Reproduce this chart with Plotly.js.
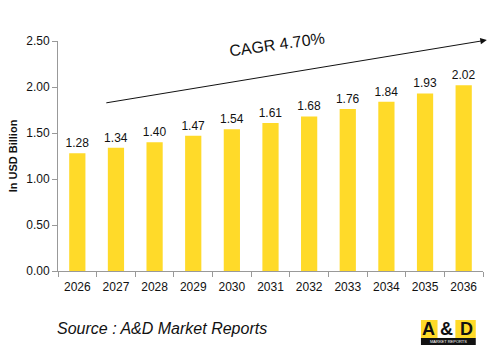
<!DOCTYPE html>
<html><head><meta charset="utf-8">
<script src="https://cdn.plot.ly/plotly-3.0.1.min.js"></script>
<style>html,body{margin:0;padding:0;background:#fff;}#chart{width:502px;height:352px;}</style>
</head><body><div id="chart"></div>
<script>
const years = ['2026','2027','2028','2029','2030','2031','2032','2033','2034','2035','2036'];
const values = [1.28,1.34,1.40,1.47,1.54,1.61,1.68,1.76,1.84,1.93,2.02];
const yTicks = [0,0.5,1,1.5,2,2.5];
const cagrLabel = 'CAGR 4.70%';
const sourceLabel = 'Source : A&D Market Reports';

const FONT = 'Liberation Sans, Arial, sans-serif';
const yellow = '#FFDA29';

const trace = {
  type: 'bar', x: years, y: values,
  marker: {color: yellow},
  text: values.map(v => v.toFixed(2)),
  textposition: 'outside',
  constraintext: 'none',
  textfont: {family: FONT, size: 12, color: '#111'},
  cliponaxis: false,
  hoverinfo: 'none'
};

const layout = {
  width: 502, height: 352,
  margin: {l: 58, r: 19, t: 41, b: 81},
  paper_bgcolor: '#fff', plot_bgcolor: '#fff',
  bargap: 0.58,
  showlegend: false,
  font: {family: FONT, size: 12, color: '#111'},
  xaxis: {
    type: 'category', showgrid: false, showline: true, linecolor: '#999', linewidth: 1,
    ticks: 'outside', tickson: 'boundaries', ticklen: 5, tickcolor: '#999',
    ticklabelstandoff: 5,
    tickfont: {family: FONT, size: 12, color: '#111'}
  },
  yaxis: {
    range: [0, 2.5], tickvals: yTicks, tickformat: '.2f',
    showgrid: false, showline: true, linecolor: '#999', linewidth: 1,
    ticks: 'outside', ticklen: 5, tickcolor: '#999', zeroline: false,
    tickfont: {family: FONT, size: 12, color: '#111'},
    title: {text: '<b>In USD Billion</b>', font: {family: FONT, size: 11, color: '#111'}, standoff: 6}
  },
  shapes: [
    {type: 'rect', xref: 'paper', yref: 'paper', x0: 0.854, x1: 0.983, y0: -0.291, y1: -0.213, fillcolor: yellow, line: {width: 0}},
    {type: 'rect', xref: 'paper', yref: 'paper', x0: 0.893, x1: 0.935, y0: -0.291, y1: -0.213, fillcolor: '#fff', line: {width: 0}},
    {type: 'rect', xref: 'paper', yref: 'paper', x0: 0.854, x1: 0.983, y0: -0.322, y1: -0.291, fillcolor: '#111', line: {width: 0}}
  ],
  annotations: [
    {xref: 'paper', yref: 'paper', x: 1.009, y: 1.004, ax: -382, ay: 63, axref: 'pixel', ayref: 'pixel',
     showarrow: true, arrowhead: 2, arrowsize: 1.3, arrowwidth: 1, arrowcolor: '#111', text: ''},
    {xref: 'paper', yref: 'paper', x: 0.515, y: 0.983, xanchor: 'center', yanchor: 'middle', text: cagrLabel, showarrow: false, textangle: -8,
     font: {family: FONT, size: 16, color: '#111'}},
    {xref: 'paper', yref: 'paper', x: -0.007, y: -0.248, xanchor: 'left', yanchor: 'middle', text: '<i>' + sourceLabel + '</i>', showarrow: false,
     font: {family: FONT, size: 16, color: '#111'}},
    {xref: 'paper', yref: 'paper', x: 0.872, y: -0.252, xanchor: 'center', yanchor: 'middle', text: '<b>A</b>', showarrow: false,
     font: {family: FONT, size: 18, color: '#111'}},
    {xref: 'paper', yref: 'paper', x: 0.914, y: -0.252, xanchor: 'center', yanchor: 'middle', text: '<b>&amp;</b>', showarrow: false,
     font: {family: FONT, size: 18, color: '#111'}},
    {xref: 'paper', yref: 'paper', x: 0.960, y: -0.252, xanchor: 'center', yanchor: 'middle', text: '<b>D</b>', showarrow: false,
     font: {family: FONT, size: 18, color: '#111'}},
    {xref: 'paper', yref: 'paper', x: 0.918, y: -0.306, xanchor: 'center', yanchor: 'middle', text: 'MARKET REPORTS', showarrow: false,
     font: {family: FONT, size: 4, color: '#fff'}}
  ]
};

Plotly.newPlot('chart', [trace], layout, {displayModeBar: false, staticPlot: true});
</script>
</body></html>
